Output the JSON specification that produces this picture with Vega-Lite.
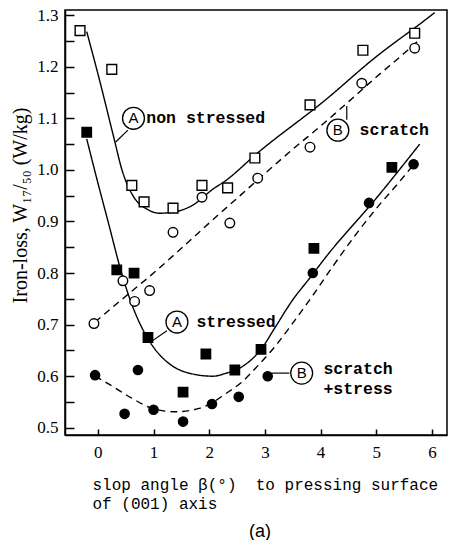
{
  "$schema": "https://vega.github.io/schema/vega-lite/v6.json",
  "width": 382,
  "height": 425,
  "autosize": {"type": "none"},
  "padding": {"left": 65, "top": 10, "right": 3, "bottom": 105},
  "background": "white",
  "config": {
    "view": {"stroke": "black", "strokeWidth": 1.5},
    "font": "Liberation Serif"
  },
  "title": {
    "text": "(a)",
    "orient": "bottom",
    "anchor": "middle",
    "frame": "group",
    "font": "Liberation Sans",
    "fontSize": 18,
    "fontWeight": "normal",
    "color": "black",
    "offset": 12,
    "dx": 4
  },
  "datasets": {
    "curves": [
      {"curve": "A_ns", "x": -0.2, "y": 1.268},
      {"curve": "A_ns", "x": 0.04, "y": 1.17},
      {"curve": "A_ns", "x": 0.27, "y": 1.07},
      {"curve": "A_ns", "x": 0.45, "y": 0.994},
      {"curve": "A_ns", "x": 0.63, "y": 0.95},
      {"curve": "A_ns", "x": 0.88, "y": 0.924},
      {"curve": "A_ns", "x": 1.11, "y": 0.916},
      {"curve": "A_ns", "x": 1.35, "y": 0.918},
      {"curve": "A_ns", "x": 1.71, "y": 0.932},
      {"curve": "A_ns", "x": 2.07, "y": 0.963},
      {"curve": "A_ns", "x": 2.28, "y": 0.978},
      {"curve": "A_ns", "x": 2.87, "y": 1.033},
      {"curve": "A_ns", "x": 4.08, "y": 1.135},
      {"curve": "A_ns", "x": 4.97, "y": 1.217},
      {"curve": "A_ns", "x": 5.87, "y": 1.29},
      {"curve": "A_ns", "x": 6.05, "y": 1.305},
      {"curve": "B_s", "x": -0.05, "y": 0.705},
      {"curve": "B_s", "x": 0.5, "y": 0.755},
      {"curve": "B_s", "x": 1.0, "y": 0.8},
      {"curve": "B_s", "x": 1.5, "y": 0.848},
      {"curve": "B_s", "x": 2.0, "y": 0.897},
      {"curve": "B_s", "x": 2.5, "y": 0.945},
      {"curve": "B_s", "x": 3.0, "y": 0.993},
      {"curve": "B_s", "x": 3.5, "y": 1.04},
      {"curve": "B_s", "x": 4.0, "y": 1.085},
      {"curve": "B_s", "x": 4.5, "y": 1.132},
      {"curve": "B_s", "x": 5.0, "y": 1.18},
      {"curve": "B_s", "x": 5.5, "y": 1.226},
      {"curve": "B_s", "x": 5.75, "y": 1.25},
      {"curve": "A_st", "x": -0.2, "y": 1.06},
      {"curve": "A_st", "x": 0.0, "y": 0.975},
      {"curve": "A_st", "x": 0.2, "y": 0.893},
      {"curve": "A_st", "x": 0.4, "y": 0.81},
      {"curve": "A_st", "x": 0.6, "y": 0.742},
      {"curve": "A_st", "x": 0.81, "y": 0.69},
      {"curve": "A_st", "x": 1.0, "y": 0.656},
      {"curve": "A_st", "x": 1.24, "y": 0.628},
      {"curve": "A_st", "x": 1.6, "y": 0.607},
      {"curve": "A_st", "x": 2.07, "y": 0.6},
      {"curve": "A_st", "x": 2.28, "y": 0.605},
      {"curve": "A_st", "x": 2.64, "y": 0.622},
      {"curve": "A_st", "x": 2.93, "y": 0.652},
      {"curve": "A_st", "x": 3.18, "y": 0.694},
      {"curve": "A_st", "x": 3.48, "y": 0.745},
      {"curve": "A_st", "x": 3.84, "y": 0.795},
      {"curve": "A_st", "x": 4.08, "y": 0.829},
      {"curve": "A_st", "x": 5.0, "y": 0.945},
      {"curve": "A_st", "x": 5.78, "y": 1.05},
      {"curve": "B_ss", "x": -0.05, "y": 0.6},
      {"curve": "B_ss", "x": 0.3, "y": 0.578},
      {"curve": "B_ss", "x": 0.6, "y": 0.558},
      {"curve": "B_ss", "x": 1.0, "y": 0.537},
      {"curve": "B_ss", "x": 1.4, "y": 0.531},
      {"curve": "B_ss", "x": 1.8, "y": 0.537},
      {"curve": "B_ss", "x": 2.01, "y": 0.546},
      {"curve": "B_ss", "x": 2.28, "y": 0.565},
      {"curve": "B_ss", "x": 2.6, "y": 0.59},
      {"curve": "B_ss", "x": 2.87, "y": 0.62},
      {"curve": "B_ss", "x": 3.2, "y": 0.66},
      {"curve": "B_ss", "x": 3.48, "y": 0.7},
      {"curve": "B_ss", "x": 3.85, "y": 0.755},
      {"curve": "B_ss", "x": 4.2, "y": 0.81},
      {"curve": "B_ss", "x": 4.6, "y": 0.87},
      {"curve": "B_ss", "x": 5.0, "y": 0.925},
      {"curve": "B_ss", "x": 5.4, "y": 0.975},
      {"curve": "B_ss", "x": 5.67, "y": 1.01}
    ],
    "points": [
      {"series": "A_ns", "x": -0.32, "y": 1.27},
      {"series": "A_ns", "x": 0.25, "y": 1.195},
      {"series": "A_ns", "x": 0.61, "y": 0.97},
      {"series": "A_ns", "x": 0.83, "y": 0.938},
      {"series": "A_ns", "x": 1.35, "y": 0.926},
      {"series": "A_ns", "x": 1.87, "y": 0.97},
      {"series": "A_ns", "x": 2.33, "y": 0.965},
      {"series": "A_ns", "x": 2.82, "y": 1.023},
      {"series": "A_ns", "x": 3.81, "y": 1.126},
      {"series": "A_ns", "x": 4.76, "y": 1.232},
      {"series": "A_ns", "x": 5.69, "y": 1.265},
      {"series": "B_s", "x": -0.07, "y": 0.702},
      {"series": "B_s", "x": 0.45, "y": 0.785},
      {"series": "B_s", "x": 0.66, "y": 0.745},
      {"series": "B_s", "x": 0.93, "y": 0.766},
      {"series": "B_s", "x": 1.35, "y": 0.879},
      {"series": "B_s", "x": 1.87, "y": 0.947},
      {"series": "B_s", "x": 2.37, "y": 0.897},
      {"series": "B_s", "x": 2.87, "y": 0.984},
      {"series": "B_s", "x": 3.81, "y": 1.044},
      {"series": "B_s", "x": 4.74, "y": 1.168},
      {"series": "B_s", "x": 5.69, "y": 1.236},
      {"series": "A_st", "x": -0.2, "y": 1.073},
      {"series": "A_st", "x": 0.34, "y": 0.806},
      {"series": "A_st", "x": 0.65, "y": 0.8},
      {"series": "A_st", "x": 0.9, "y": 0.675},
      {"series": "A_st", "x": 1.53, "y": 0.569},
      {"series": "A_st", "x": 1.94, "y": 0.643},
      {"series": "A_st", "x": 2.46, "y": 0.612},
      {"series": "A_st", "x": 2.93, "y": 0.652},
      {"series": "A_st", "x": 3.88, "y": 0.848},
      {"series": "A_st", "x": 5.28, "y": 1.005},
      {"series": "B_ss", "x": -0.05, "y": 0.602},
      {"series": "B_ss", "x": 0.48, "y": 0.527},
      {"series": "B_ss", "x": 0.72, "y": 0.612},
      {"series": "B_ss", "x": 1.0, "y": 0.535},
      {"series": "B_ss", "x": 1.53, "y": 0.512},
      {"series": "B_ss", "x": 2.05, "y": 0.546},
      {"series": "B_ss", "x": 2.53, "y": 0.56},
      {"series": "B_ss", "x": 3.05, "y": 0.6},
      {"series": "B_ss", "x": 3.86, "y": 0.8},
      {"series": "B_ss", "x": 4.87, "y": 0.936},
      {"series": "B_ss", "x": 5.67, "y": 1.011}
    ],
    "badges": [
      {"letter": "A", "x": 0.64, "y": 1.1},
      {"letter": "B", "x": 4.31, "y": 1.077},
      {"letter": "A", "x": 1.42, "y": 0.705},
      {"letter": "B", "x": 3.66, "y": 0.606}
    ],
    "notes": [
      {"text": "non stressed", "x": 0.87, "y": 1.1},
      {"text": "scratch", "x": 4.7, "y": 1.077},
      {"text": "stressed", "x": 1.77, "y": 0.705},
      {"text": "scratch", "x": 4.05, "y": 0.613},
      {"text": "+stress", "x": 4.05, "y": 0.576}
    ],
    "leaders": [
      {"x": 0.54, "y": 1.077, "x2": 0.32, "y2": 1.054},
      {"x": 4.47, "y": 1.097, "x2": 4.47, "y2": 1.124},
      {"x": 1.24, "y": 0.688, "x2": 0.97, "y2": 0.668},
      {"x": 3.12, "y": 0.606, "x2": 3.44, "y2": 0.606}
    ]
  },
  "encoding": {
    "x": {
      "field": "x", "type": "quantitative",
      "scale": {"domain": [-0.59, 6.27], "nice": false, "zero": false},
      "axis": {
        "values": [0, 1, 2, 3, 4, 5, 6],
        "format": "d",
        "tickSize": -6,
        "tickColor": "black",
        "tickWidth": 1.5,
        "domainColor": "black",
        "domainWidth": 1.5,
        "labelFont": "Liberation Serif",
        "labelFontSize": 17,
        "labelColor": "black",
        "labelPadding": 15,
        "gridOpacity": 0,
        "title": ["slop angle β(°)\u00a0\u00a0to pressing surface", "of (001) axis"],
        "titleFont": "Liberation Mono",
        "titleFontSize": 16,
        "titleFontWeight": "normal",
        "titleColor": "black",
        "titleAnchor": "start",
        "titleAlign": "left",
        "titleBaseline": "top",
        "titleX": 27,
        "titleY": 41,
        "titleLineHeight": 19
      }
    },
    "y": {
      "field": "y", "type": "quantitative",
      "scale": {"domain": [0.486, 1.31], "nice": false, "zero": false},
      "axis": {
        "values": [0.5, 0.55, 0.6, 0.65, 0.7, 0.75, 0.8, 0.85, 0.9, 0.95, 1.0, 1.05, 1.1, 1.15, 1.2, 1.25, 1.3],
        "labelExpr": "abs(datum.value*10 - round(datum.value*10)) < 0.01 ? format(datum.value, '.1f') : ''",
        "tickSize": -9,
        "tickColor": "black",
        "tickWidth": 1.5,
        "domainColor": "black",
        "domainWidth": 1.5,
        "labelFont": "Liberation Serif",
        "labelFontSize": 17,
        "labelColor": "black",
        "labelPadding": 16,
        "gridOpacity": 0,
        "title": "Iron-loss, W₁₇/₅₀ (W/kg)",
        "titleFont": "Liberation Serif",
        "titleFontSize": 20,
        "titleFontWeight": "normal",
        "titleColor": "black",
        "titleAngle": -90,
        "titleAnchor": "middle",
        "titleBaseline": "middle",
        "titleX": -45,
        "titleY": 195
      }
    }
  },
  "layer": [
    {
      "data": {"name": "curves"},
      "mark": {"type": "line", "color": "black", "strokeWidth": 1.4, "interpolate": "monotone", "clip": true},
      "encoding": {
        "detail": {"field": "curve"},
        "strokeDash": {
          "field": "curve", "type": "nominal",
          "scale": {"domain": ["A_ns", "B_s", "A_st", "B_ss"], "range": [[1, 0], [7, 5], [1, 0], [7, 5]]},
          "legend": null
        }
      }
    },
    {
      "data": {"name": "leaders"},
      "mark": {"type": "rule", "color": "black", "strokeWidth": 1.2},
      "encoding": {
        "x2": {"field": "x2"},
        "y2": {"field": "y2"}
      }
    },
    {
      "data": {"name": "points"},
      "mark": {"type": "point", "filled": true, "stroke": "black", "strokeWidth": 1.4, "opacity": 1},
      "encoding": {
        "shape": {
          "field": "series", "type": "nominal",
          "scale": {"domain": ["A_ns", "B_s", "A_st", "B_ss"], "range": ["square", "circle", "square", "circle"]},
          "legend": null
        },
        "fill": {
          "field": "series", "type": "nominal",
          "scale": {"domain": ["A_ns", "B_s", "A_st", "B_ss"], "range": ["white", "white", "black", "black"]},
          "legend": null
        },
        "size": {
          "field": "series", "type": "nominal",
          "scale": {"domain": ["A_ns", "B_s", "A_st", "B_ss"], "range": [95, 85, 55, 45]},
          "legend": null
        }
      }
    },
    {
      "data": {"name": "badges"},
      "mark": {"type": "point", "shape": "circle", "filled": true, "fill": "white", "stroke": "black", "strokeWidth": 1.3, "size": 480, "opacity": 1},
      "encoding": {}
    },
    {
      "data": {"name": "badges"},
      "mark": {"type": "text", "font": "Liberation Sans", "fontSize": 15, "color": "black", "align": "center", "baseline": "middle"},
      "encoding": {
        "text": {"field": "letter"}
      }
    },
    {
      "data": {"name": "notes"},
      "mark": {"type": "text", "font": "Liberation Mono", "fontWeight": "bold", "fontSize": 16.5, "color": "black", "align": "left", "baseline": "middle"},
      "encoding": {
        "text": {"field": "text"}
      }
    }
  ]
}
